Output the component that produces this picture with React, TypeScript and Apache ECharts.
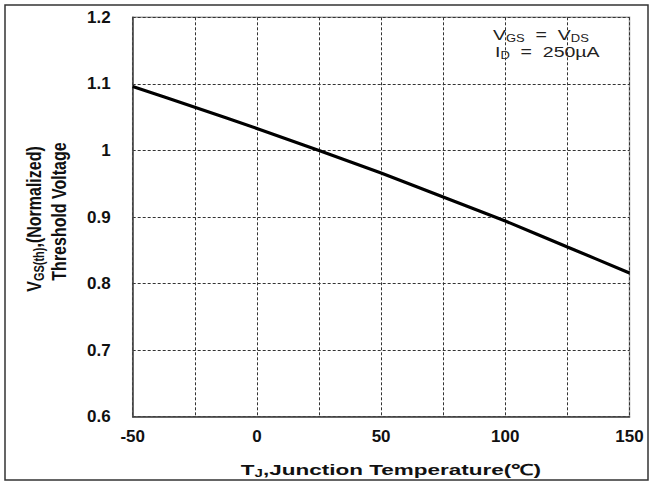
import React, { useEffect, useRef } from "react";
import * as echarts from "echarts";

const temperatures = [-50, -25, 0, 25, 50, 75, 100, 125, 150];
const thresholdVoltage = [1.096, 1.065, 1.033, 1.0, 0.966, 0.93, 0.894, 0.855, 0.816];
const xTickStep = 25;
const yTicks = [0.6, 0.7, 0.8, 0.9, 1.0, 1.1, 1.2];

const FONT = "Arial, 'Liberation Sans', sans-serif";

export default function App() {
  const ref = useRef<HTMLDivElement>(null);
  useEffect(() => {
    if (!ref.current) return;
    const chart = echarts.init(ref.current, undefined, { renderer: "svg" });
    const dashed = { show: true, lineStyle: { color: "#333", width: 1, type: [3, 2] as any } };
    chart.setOption({
      animation: false,
      backgroundColor: "#fff",
      grid: {
        left: 132.7,
        top: 17.3,
        right: 20.5,
        bottom: 65.3,
        show: true,
        borderColor: "#a0a0a0",
        borderWidth: 1.5,
      },
      xAxis: {
        type: "value",
        min: temperatures[0],
        max: temperatures[temperatures.length - 1],
        interval: xTickStep,
        axisLine: { show: true, onZero: false, lineStyle: { color: "#444", width: 1.5 } },
        axisTick: { show: false },
        splitLine: dashed,
        axisLabel: {
          margin: 11,
          fontFamily: FONT,
          fontSize: 17,
          fontWeight: "bold",
          color: "#111",
          showMaxLabel: true,
          showMinLabel: true,
          formatter: (v: number) => (v % 50 === 0 ? String(v) : ""),
        },
      },
      yAxis: {
        type: "value",
        min: yTicks[0],
        max: yTicks[yTicks.length - 1],
        interval: 0.1,
        axisLine: { show: true, onZero: false, lineStyle: { color: "#444", width: 1.5 } },
        axisTick: { show: false },
        splitLine: dashed,
        axisLabel: {
          margin: 22,
          fontFamily: FONT,
          fontSize: 17,
          fontWeight: "bold",
          color: "#111",
          formatter: (v: number) => String(parseFloat(v.toFixed(1))),
        },
      },
      series: [
        {
          type: "line",
          data: temperatures.map((t, i) => [t, thresholdVoltage[i]]),
          showSymbol: false,
          symbol: "none",
          smooth: 0.2,
          lineStyle: { color: "#000", width: 3.2 },
          z: 5,
        },
      ],
      graphic: [
        {
          type: "rect",
          shape: { x: 5, y: 5, width: 643, height: 475 },
          style: { fill: "none", stroke: "#333", lineWidth: 1.5 },
          silent: true,
        },
        {
          type: "text",
          x: 391,
          y: 470,
          scaleX: 1.5,
          style: {
            text: "{b|T}{s|J}{b|,Junction Temperature(℃)}",
            align: "center",
            verticalAlign: "middle",
            rich: {
              b: { fontFamily: FONT, fontSize: 15, fontWeight: "bold", fill: "#111", lineHeight: 17 },
              s: { fontFamily: FONT, fontSize: 10, fontWeight: "bold", fill: "#111", lineHeight: 10, verticalAlign: "bottom" },
            },
          },
        },
        {
          type: "text",
          x: 34,
          y: 219,
          rotation: Math.PI / 2,
          scaleY: 1.3,
          style: {
            text: "{b|V}{s|GS(th)}{b|,(Normalized)}",
            align: "center",
            verticalAlign: "middle",
            rich: {
              b: { fontFamily: FONT, fontSize: 16, fontWeight: "bold", fill: "#111", lineHeight: 18 },
              s: { fontFamily: FONT, fontSize: 11, fontWeight: "bold", fill: "#111", lineHeight: 11, verticalAlign: "bottom" },
            },
          },
        },
        {
          type: "text",
          x: 59,
          y: 211.5,
          rotation: Math.PI / 2,
          scaleY: 1.3,
          style: {
            text: "Threshold Voltage",
            align: "center",
            verticalAlign: "middle",
            fontFamily: FONT,
            fontSize: 16,
            fontWeight: "bold",
            fill: "#111",
          },
        },
        {
          type: "text",
          x: 493,
          y: 35,
          scaleX: 1.3,
          style: {
            text: "{n|V}{s|GS}{n|  =  V}{s|DS}",
            align: "left",
            verticalAlign: "middle",
            rich: {
              n: { fontFamily: FONT, fontSize: 15, fill: "#222", lineHeight: 17 },
              s: { fontFamily: FONT, fontSize: 10, fill: "#222", lineHeight: 10, verticalAlign: "bottom" },
            },
          },
        },
        {
          type: "text",
          x: 495,
          y: 52,
          scaleX: 1.3,
          style: {
            text: "{n|I}{s|D}{n|  =  250µA}",
            align: "left",
            verticalAlign: "middle",
            rich: {
              n: { fontFamily: FONT, fontSize: 15, fill: "#222", lineHeight: 17 },
              s: { fontFamily: FONT, fontSize: 10, fill: "#222", lineHeight: 10, verticalAlign: "bottom" },
            },
          },
        },
      ],
    });
    return () => chart.dispose();
  }, []);
  return (
    <div
      ref={ref}
      style={{ position: "absolute", left: 0, top: 0, width: 650, height: 482 }}
    />
  );
}
